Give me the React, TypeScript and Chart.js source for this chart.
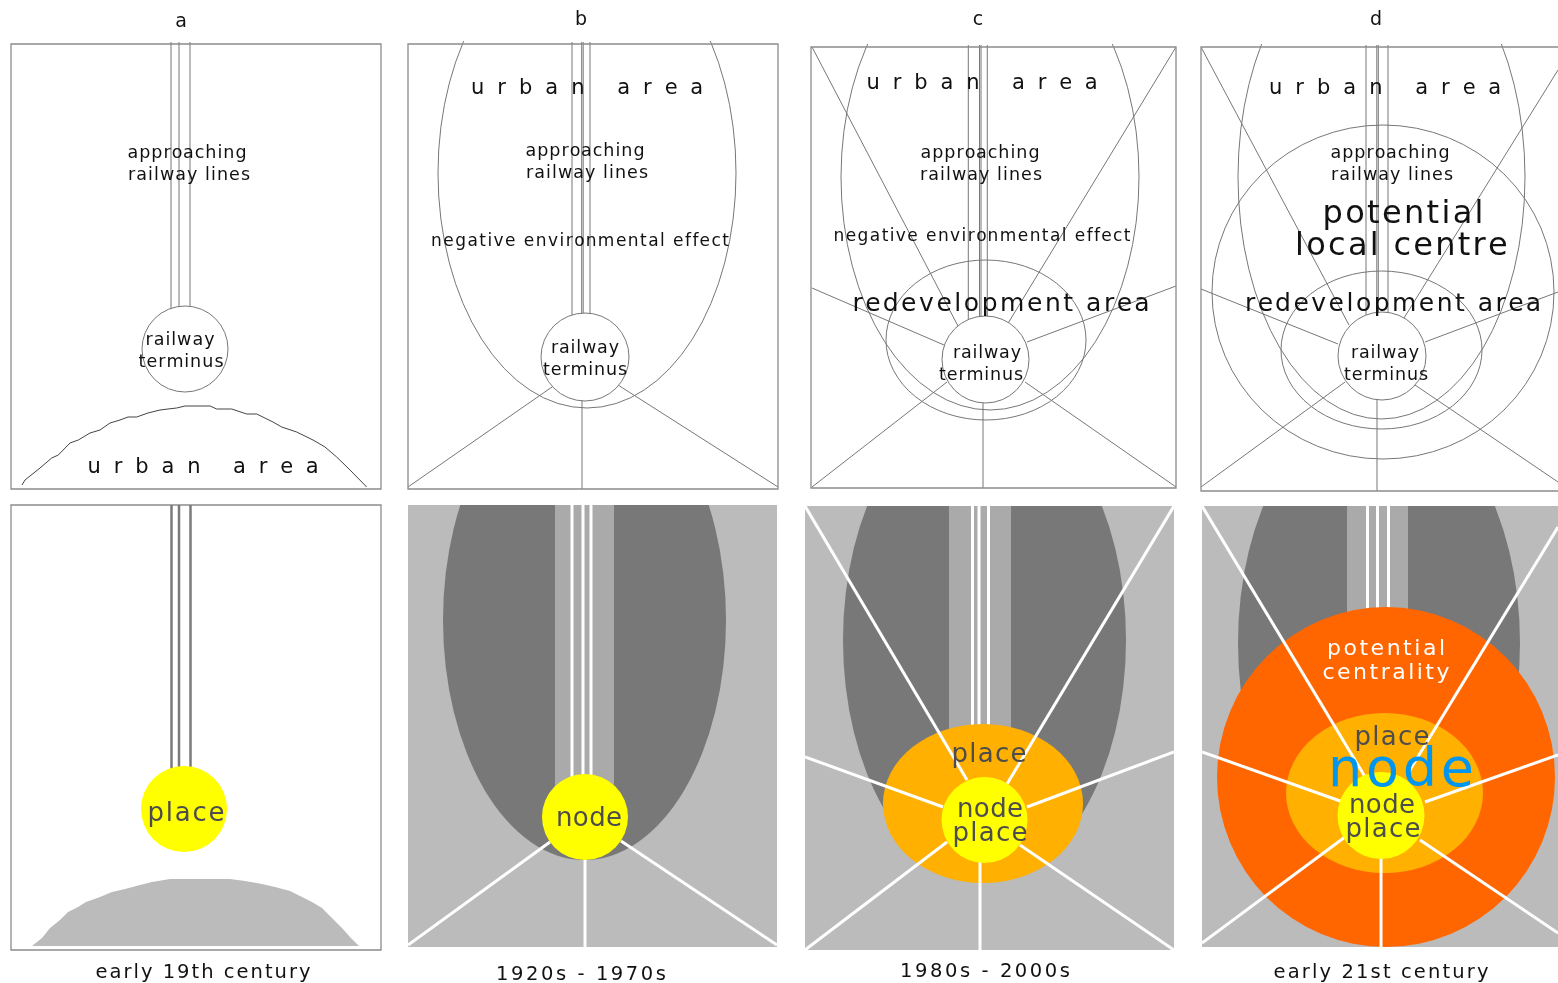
import { useEffect, useRef } from "react";
import { Chart, registerables } from "chart.js";

Chart.register(...registerables);

const W = 1558;
const H = 983;
const FONT = '"DejaVu Sans", Verdana, sans-serif';

// ---------- top row (line drawings) ----------
const TOP_FRAMES = [
  [11, 44, 381, 489],
  [408, 44, 778, 489],
  [811, 47, 1176, 488],
  [1201, 47, 1566, 491],
];
// terminus circles [cx, cy, r]
const TOP_TERMINUS = [
  [185, 349, 43],
  [585, 357, 44],
  [985.5, 359.5, 43.5],
  [1382, 356, 44],
];
// ellipses [panel, cx, cy, rx, ry]
const TOP_ELLIPSES = [
  [1, 587, 173, 149, 235],
  [2, 990, 177, 149, 233],
  [2, 986, 340, 100, 80],
  [3, 1381.5, 177, 143.5, 242],
  [3, 1383, 292, 171, 167],
  [3, 1381.5, 350, 100.5, 79],
];
// railway lines [panel, x, width]
const TOP_RAILS = [
  [0, 171, 1], [0, 179, 1], [0, 190, 1],
  [1, 572, 1], [1, 581.7, 1], [1, 583.2, 1], [1, 590, 1],
  [2, 968.3, 1], [2, 979.5, 1], [2, 981, 1], [2, 987.3, 1],
  [3, 1366, 1], [3, 1376.8, 1], [3, 1378.3, 1], [3, 1388, 1],
];
// rays [panel, x1, y1, x2, y2]
const TOP_RAYS = [
  [1, 552, 387, 408, 487], [1, 618, 385, 778, 487], [1, 582, 400, 582, 489],
  [2, 958, 326, 812, 47], [2, 1007, 325, 1176, 47], [2, 944, 345, 812, 288],
  [2, 1027, 342, 1176, 286], [2, 947, 382, 812, 487], [2, 1025, 382, 1176, 487],
  [2, 983, 403, 983, 488],
  [3, 1349, 325, 1201, 47], [3, 1404, 318, 1558, 70], [3, 1338, 344, 1201, 289],
  [3, 1425, 342, 1558, 292], [3, 1345, 382, 1201, 487], [3, 1415, 385, 1558, 482],
  [3, 1377, 398, 1377, 491],
];
// urban area outline, panel a (top)
const HUMP_TOP_X = [22, 25, 40, 51.7, 58.3, 70, 78.3, 90, 100, 110, 120, 128, 136.7, 148, 160, 168, 176.7, 185, 200, 210, 216.7, 231.7, 246.7, 256.7, 273, 281.7, 296.7, 313, 325, 336.7, 350, 366.7];
const HUMP_TOP_Y = [485, 480, 468, 458, 455, 443, 440, 433, 430, 423, 420, 417, 417, 413, 410, 409, 408, 406, 406, 406, 409, 409, 414, 414, 422, 427, 432, 440, 447, 457, 470, 487];

// ---------- bottom row (filled drawings) ----------
const A_BOTTOM_FRAME = [11, 505, 381, 950];
const HUMP_BOTTOM_X = [32, 42, 50, 60, 68, 78, 86, 100, 112, 125, 140, 152, 170, 230, 245, 262, 275, 290, 300, 312, 322, 332, 342, 350, 359];
const HUMP_BOTTOM_Y = [946, 938, 928, 920, 912, 907, 902, 897, 892, 889, 885, 882, 879, 879, 881, 884, 887, 891, 896, 902, 908, 918, 928, 937, 946];
// grey panels b, c, d
const BOTTOM_PANELS = [
  [408, 505, 777, 947],
  [805, 506, 1174, 950],
  [1202, 506, 1566, 947],
];
// dark urban ellipse per grey panel [cx, cy, rx, ry]
const BOTTOM_DARK = [
  [584.5, 620, 141.5, 240],
  [984.5, 640, 141.5, 240],
  [1379, 643, 141, 240],
];
// lighter corridor strip [x1, y1, x2, y2]
const BOTTOM_STRIPS = [
  [555, 505, 614, 817],
  [949, 506, 1011, 803],
  [1347, 506, 1408, 777],
];
// railway lines [x, y1, y2, width, colour]
const BOTTOM_RAILS: [number, number, number, number, string][] = [
  [171.5, 505, 809, 2.5, "#7a7a7a"], [179, 505, 809, 2.5, "#7a7a7a"], [190.5, 505, 809, 2.5, "#7a7a7a"],
  [572, 505, 817, 3, "#ffffff"], [583, 505, 817, 3, "#ffffff"], [591, 505, 817, 3, "#ffffff"],
  [972.5, 506, 803, 3, "#ffffff"], [979, 506, 803, 3, "#ffffff"], [988.5, 506, 803, 3, "#ffffff"],
  [1367.5, 506, 777, 3, "#ffffff"], [1377.5, 506, 777, 3, "#ffffff"], [1388.5, 506, 777, 3, "#ffffff"],
];
// centrality zones [panel(1..3), cx, cy, rx, ry, colour]
const BOTTOM_ZONES: [number, number, number, number, number, string][] = [
  [3, 1386, 777, 169, 170, "#ff6600"],
  [2, 983, 803.5, 100, 79.5, "#ffb000"],
  [3, 1384.5, 793, 98.5, 80, "#ffb000"],
];
// white rays [panel(1..3), x1, y1, x2, y2]
const BOTTOM_RAYS = [
  [1, 550, 842, 408, 945], [1, 621, 841, 777, 945], [1, 585, 858, 585, 947],
  [2, 967, 780, 805, 506], [2, 1007, 784, 1174, 506], [2, 943, 807, 805, 757],
  [2, 1027, 807, 1174, 752], [2, 947, 842, 805, 950], [2, 1020, 845, 1174, 950],
  [2, 980, 861, 980, 950],
  [3, 1367, 780, 1202, 506], [3, 1408, 773, 1558, 527], [3, 1343, 802, 1202, 752],
  [3, 1425, 802, 1558, 755], [3, 1345, 837, 1202, 943], [3, 1420, 840, 1558, 933],
  [3, 1381, 857, 1381, 947],
];
// yellow node/place circles [cx, cy, r]
const BOTTOM_YELLOW = [
  [184, 809, 43],
  [585, 817, 43],
  [984.5, 820, 43],
  [1381, 815.5, 43.5],
];

// ---------- labels [text, cx, cy, size, inkWidth, colour] ----------
const LABELS: [string, number, number, number, number, string][] = [
  ["a", 181, 21, 19, 0, "#111"],
  ["b", 581, 19, 19, 0, "#111"],
  ["c", 978, 19, 19, 0, "#111"],
  ["d", 1376, 19, 19, 0, "#111"],
  // a top
  ["approaching", 187, 152, 17.5, 119, "#111"],
  ["railway lines", 189, 174, 17.5, 122, "#111"],
  ["railway", 180, 339, 17.5, 69, "#111"],
  ["terminus", 181, 361, 17.5, 85, "#111"],
  ["urban area", 203, 466, 21, 231, "#111"],
  // a bottom
  ["place", 186, 812, 26, 77, "#4d4d4d"],
  // b top
  ["urban area", 587, 87, 21, 232, "#111"],
  ["approaching", 585, 150, 17.5, 119, "#111"],
  ["railway lines", 587, 172, 17.5, 122, "#111"],
  ["negative environmental effect", 580, 240, 17, 298, "#111"],
  ["railway", 585, 347, 17.5, 68, "#111"],
  ["terminus", 585, 369, 17.5, 84, "#111"],
  // b bottom
  ["node", 589, 817, 26, 66, "#4d4d4d"],
  // c top
  ["urban area", 982, 82, 21, 231, "#111"],
  ["approaching", 980, 152, 17.5, 119, "#111"],
  ["railway lines", 981, 174, 17.5, 122, "#111"],
  ["negative environmental effect", 982, 235, 17, 297, "#111"],
  ["redevelopment area", 1001, 302, 25, 297, "#111"],
  ["railway", 987, 352, 17.5, 68, "#111"],
  ["terminus", 981, 374, 17.5, 84, "#111"],
  // c bottom
  ["place", 989, 753, 26, 75, "#4d4d4d"],
  ["node", 990, 808, 26, 66, "#4d4d4d"],
  ["place", 990, 832, 26, 75, "#4d4d4d"],
  // d top
  ["urban area", 1385, 87, 21, 232, "#111"],
  ["approaching", 1390, 152, 17.5, 119, "#111"],
  ["railway lines", 1392, 174, 17.5, 122, "#111"],
  ["potential", 1403, 212, 32, 161, "#111"],
  ["local centre", 1401, 244, 32, 212, "#111"],
  ["redevelopment area", 1393, 302, 25, 296, "#111"],
  ["railway", 1385, 352, 17.5, 68, "#111"],
  ["terminus", 1386, 374, 17.5, 84, "#111"],
  // d bottom
  ["potential", 1386, 648, 22, 118, "#ffffff"],
  ["centrality", 1386, 672, 22, 127, "#ffffff"],
  ["place", 1392, 736, 26, 75, "#4d4d4d"],
  ["node", 1401, 768, 54, 146, "#0096f0"],
  ["node", 1382, 804, 26, 66, "#4d4d4d"],
  ["place", 1383, 828, 26, 75, "#4d4d4d"],
  // period captions
  ["early 19th century", 203, 971, 19.5, 215, "#111"],
  ["1920s - 1970s", 581, 973, 19.5, 170, "#111"],
  ["1980s - 2000s", 985, 970, 19.5, 170, "#111"],
  ["early 21st century", 1381, 971, 19.5, 215, "#111"],
];

const LINE = "#777777";
const FRAME = "#8c8c8c";

const diagramPlugin = {
  id: "diagram",
  afterDraw(chart: any) {
    const ctx: CanvasRenderingContext2D = chart.ctx;
    const xs = chart.scales.x;
    const ys = chart.scales.y;
    const px = (v: number) => xs.getPixelForValue(v);
    const py = (v: number) => ys.getPixelForValue(v);
    const dx = (d: number) => Math.abs(px(d) - px(0));
    const dy = (d: number) => Math.abs(py(d) - py(0));

    const rectPath = (r: number[]) => {
      ctx.beginPath();
      ctx.rect(px(r[0]), py(r[1]), px(r[2]) - px(r[0]), py(r[3]) - py(r[1]));
    };
    const ellPath = (cx: number, cy: number, rx: number, ry: number) => {
      ctx.beginPath();
      ctx.ellipse(px(cx), py(cy), dx(rx), dy(ry), 0, 0, Math.PI * 2);
    };
    const seg = (x1: number, y1: number, x2: number, y2: number) => {
      ctx.beginPath();
      ctx.moveTo(px(x1), py(y1));
      ctx.lineTo(px(x2), py(y2));
      ctx.stroke();
    };
    const poly = (xsA: number[], ysA: number[]) => {
      ctx.beginPath();
      xsA.forEach((v, i) => (i === 0 ? ctx.moveTo(px(v), py(ysA[i])) : ctx.lineTo(px(v), py(ysA[i]))));
    };

    ctx.save();
    ctx.fillStyle = "#ffffff";
    ctx.fillRect(0, 0, chart.width, chart.height);

    // ----- top panels -----
    TOP_FRAMES.forEach((f, p) => {
      ctx.save();
      rectPath([f[0], f[1] - 3, f[2], f[3]]);
      ctx.clip();
      ctx.strokeStyle = LINE;
      ctx.lineWidth = 1;
      TOP_RAYS.filter((r) => r[0] === p).forEach((r) => seg(r[1], r[2], r[3], r[4]));
      TOP_ELLIPSES.filter((e) => e[0] === p).forEach((e) => {
        ellPath(e[1], e[2], e[3], e[4]);
        ctx.stroke();
      });
      const t = TOP_TERMINUS[p];
      TOP_RAILS.filter((r) => r[0] === p).forEach((r) => {
        ctx.lineWidth = r[2];
        seg(r[1], f[1] - 2, r[1], t[1]);
      });
      ctx.lineWidth = 1;
      ellPath(t[0], t[1], t[2], t[2]);
      ctx.fillStyle = "#ffffff";
      ctx.fill();
      ctx.stroke();
      ctx.restore();
      ctx.strokeStyle = FRAME;
      ctx.lineWidth = 1.3;
      rectPath(f);
      ctx.stroke();
    });
    // urban edge in panel a
    ctx.strokeStyle = "#444";
    ctx.lineWidth = 1;
    poly(HUMP_TOP_X, HUMP_TOP_Y);
    ctx.stroke();

    // ----- bottom panel a -----
    ctx.strokeStyle = FRAME;
    ctx.lineWidth = 1.3;
    rectPath(A_BOTTOM_FRAME);
    ctx.stroke();
    ctx.fillStyle = "#bbbbbb";
    poly(HUMP_BOTTOM_X, HUMP_BOTTOM_Y);
    ctx.closePath();
    ctx.fill();

    // ----- bottom grey panels -----
    BOTTOM_PANELS.forEach((bp, i) => {
      ctx.save();
      rectPath(bp);
      ctx.clip();
      ctx.fillStyle = "#bbbbbb";
      rectPath(bp);
      ctx.fill();
      const d = BOTTOM_DARK[i];
      ctx.fillStyle = "#787878";
      ellPath(d[0], d[1], d[2], d[3]);
      ctx.fill();
      ctx.fillStyle = "#aaaaaa";
      rectPath(BOTTOM_STRIPS[i]);
      ctx.fill();
      ctx.restore();
    });

    BOTTOM_RAILS.forEach((r) => {
      ctx.strokeStyle = r[4];
      ctx.lineWidth = r[3];
      seg(r[0], r[1], r[0], r[2]);
    });

    BOTTOM_PANELS.forEach((bp, i) => {
      const p = i + 1;
      ctx.save();
      rectPath(bp);
      ctx.clip();
      BOTTOM_ZONES.filter((z) => z[0] === p).forEach((z) => {
        ctx.fillStyle = z[5];
        ellPath(z[1], z[2], z[3], z[4]);
        ctx.fill();
      });
      ctx.strokeStyle = "#ffffff";
      ctx.lineWidth = 3;
      BOTTOM_RAYS.filter((r) => r[0] === p).forEach((r) => seg(r[1], r[2], r[3], r[4]));
      ctx.restore();
    });

    BOTTOM_YELLOW.forEach((c) => {
      ctx.fillStyle = "#ffff00";
      ellPath(c[0], c[1], c[2], c[2]);
      ctx.fill();
    });

    // ----- labels -----
    ctx.textBaseline = "middle";
    ctx.textAlign = "left";
    LABELS.forEach(([text, cx, cy, size, width, color]) => {
      ctx.font = `${size}px ${FONT}`;
      ctx.fillStyle = color;
      const w0 = ctx.measureText(text).width;
      const n = text.length;
      const targetPx = width ? dx(width) : w0;
      const ls = n > 1 ? (targetPx - w0) / (n - 1) : 0;
      const start = px(cx) - targetPx / 2;
      const yPix = py(cy) + size * 0.08;
      for (let k = 0; k < n; k++) {
        const off = ctx.measureText(text.slice(0, k)).width;
        ctx.fillText(text[k], start + off + k * ls, yPix);
      }
    });
    ctx.restore();
  },
};

export default function App() {
  const ref = useRef<HTMLCanvasElement | null>(null);
  useEffect(() => {
    document.body.style.margin = "0";
    const canvas = ref.current;
    if (!canvas) return;
    const chart = new Chart(canvas, {
      type: "scatter",
      data: { datasets: [{ data: [], pointRadius: 0 }] },
      options: {
        responsive: false,
        maintainAspectRatio: false,
        animation: false,
        events: [],
        layout: { padding: 0 },
        plugins: { legend: { display: false }, tooltip: { enabled: false } },
        scales: {
          x: { type: "linear", min: 0, max: W, display: false },
          y: { type: "linear", min: 0, max: H, reverse: true, display: false },
        },
      },
      plugins: [diagramPlugin],
    });
    return () => chart.destroy();
  }, []);
  return <canvas ref={ref} width={W} height={H} style={{ display: "block", width: W, height: H }} />;
}
